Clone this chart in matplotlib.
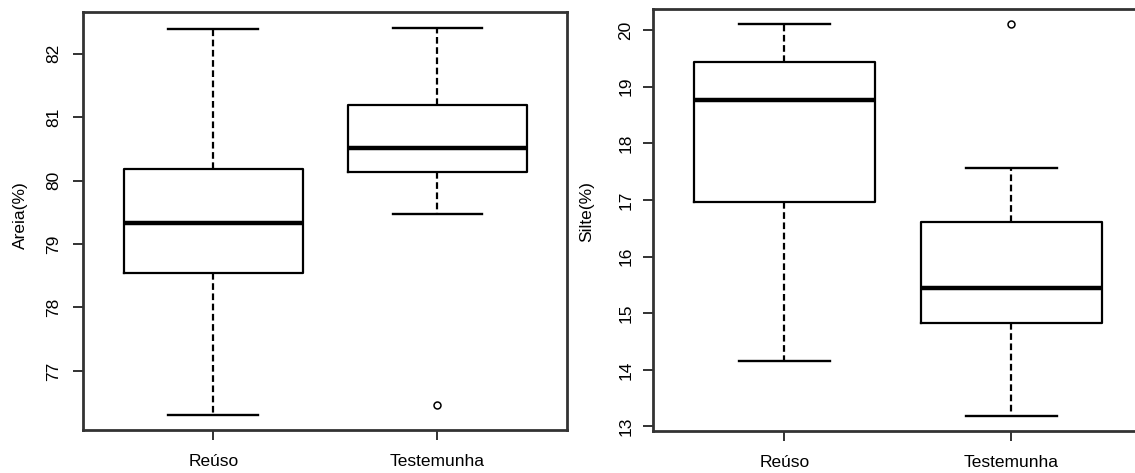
import matplotlib
matplotlib.use("Agg")
import matplotlib.pyplot as plt

plt.rcParams['font.family'] = ['Liberation Sans', 'DejaVu Sans']

# 1. data (box statistics per group)
groups = ["Reúso", "Testemunha"]

areia_low = [76.31, 79.47]
areia_q1 = [78.55, 80.13]
areia_med = [79.33, 80.52]
areia_q3 = [80.18, 81.19]
areia_high = [82.39, 82.40]
areia_out = [[], [76.47]]

silte_low = [14.16, 13.19]
silte_q1 = [16.96, 14.82]
silte_med = [18.76, 15.44]
silte_q3 = [19.44, 16.61]
silte_high = [20.11, 17.56]
silte_out = [[], [20.10]]


def make_stats(low, q1, med, q3, high, out):
    stats = []
    for i in range(len(groups)):
        stats.append({
            "label": groups[i],
            "whislo": low[i], "q1": q1[i], "med": med[i],
            "q3": q3[i], "whishi": high[i], "fliers": out[i],
        })
    return stats


def draw_panel(ax, stats, ylabel, yticks, ylim, label_x, label_y, ypad):
    ax.bxp(stats, positions=[1, 2], widths=0.8, showfliers=True,
           boxprops=dict(color="black", linewidth=1.6),
           medianprops=dict(color="black", linewidth=3.2),
           whiskerprops=dict(color="black", linewidth=1.6, linestyle=(0, (3, 1.6))),
           capprops=dict(color="black", linewidth=1.7),
           flierprops=dict(marker="o", markersize=5, markerfacecolor="none",
                           markeredgecolor="black", markeredgewidth=1.1),
           capwidths=0.4)
    ax.set_xlim(0.42, 2.58)
    ax.set_ylim(*ylim)
    ax.set_yticks(yticks)
    ax.set_yticklabels([str(t) for t in yticks], rotation=90, va="center")
    ax.set_xticks([1, 2])
    ax.set_xticklabels(groups)
    ax.tick_params(axis="y", length=7, width=1.3, pad=ypad, labelsize=12.5, color="#222222")
    ax.tick_params(axis="x", length=7, width=1.3, pad=10, labelsize=12.5, color="#222222")
    for sp in ax.spines.values():
        sp.set_color("#333333")
        sp.set_linewidth(2.0)
    ax.set_ylabel(ylabel, fontsize=12.5)
    ax.yaxis.set_label_coords(label_x, label_y)


fig = plt.figure(figsize=(11.35, 4.73), dpi=100)

# 2. left panel: Areia
ax1 = fig.add_axes([0.0734, 0.0909, 0.4264, 0.883])
draw_panel(ax1, make_stats(areia_low, areia_q1, areia_med, areia_q3, areia_high, areia_out),
           "Areia(%)", [77, 78, 79, 80, 81, 82], (76.07, 82.65), -0.115, 0.515, 9)

# 3. right panel: Silte (its right edge runs past the picture)
ax2 = fig.add_axes([0.5751, 0.0888, 0.432, 0.8922])
draw_panel(ax2, make_stats(silte_low, silte_q1, silte_med, silte_q3, silte_high, silte_out),
           "Silte(%)", [13, 14, 15, 16, 17, 18, 19, 20], (12.92, 20.37), -0.120, 0.519, 7)

fig.savefig("out.png", dpi=100)
